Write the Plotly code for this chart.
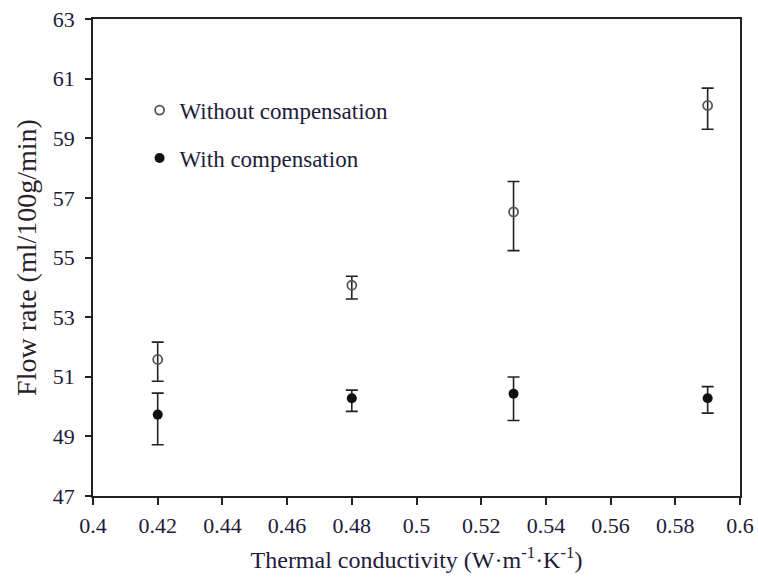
import plotly.graph_objects as go

x_vals = [0.42, 0.48, 0.53, 0.59]
without_comp = [51.58, 54.07, 56.53, 60.10]
without_err_plus = [0.58, 0.30, 1.02, 0.58]
without_err_minus = [0.73, 0.46, 1.30, 0.80]
with_comp = [49.73, 50.28, 50.43, 50.28]
with_err_plus = [0.72, 0.27, 0.56, 0.39]
with_err_minus = [1.01, 0.44, 0.90, 0.50]

x_ticks = [0.4, 0.42, 0.44, 0.46, 0.48, 0.5, 0.52, 0.54, 0.56, 0.58, 0.6]
x_tick_labels = ["0.4", "0.42", "0.44", "0.46", "0.48", "0.5", "0.52", "0.54", "0.56", "0.58", "0.6"]
y_ticks = [47, 49, 51, 53, 55, 57, 59, 61, 63]

font_family = "Liberation Serif, Times New Roman, serif"
text_color = "#1c1c3a"

fig = go.Figure()
fig.add_trace(go.Scatter(
    x=x_vals, y=without_comp, mode="markers", name="Without compensation",
    marker=dict(symbol="circle-open", size=9, color="#555555", line=dict(width=1.8, color="#555555")),
    error_y=dict(type="data", symmetric=False, array=without_err_plus, arrayminus=without_err_minus,
                 color="#222222", thickness=1.6, width=6),
    legendgroup="a",
))
fig.add_trace(go.Scatter(
    x=x_vals, y=with_comp, mode="markers", name="With compensation",
    marker=dict(symbol="circle", size=10, color="#111111"),
    error_y=dict(type="data", symmetric=False, array=with_err_plus, arrayminus=with_err_minus,
                 color="#222222", thickness=1.6, width=6),
    legendgroup="b",
))

fig.update_layout(
    width=758, height=579,
    margin=dict(l=93, r=18, t=19, b=83, autoexpand=False),
    paper_bgcolor="white", plot_bgcolor="white",
    font=dict(family=font_family, size=22, color=text_color),
    showlegend=True,
    legend=dict(
        x=0.072, y=0.854, xanchor="left", yanchor="top",
        bgcolor="rgba(0,0,0,0)", font=dict(size=23, color=text_color),
        traceorder="grouped", tracegroupgap=15, itemwidth=30,
    ),
    xaxis=dict(
        range=[0.4, 0.6], tickvals=x_ticks, ticktext=x_tick_labels,
        showgrid=False, zeroline=False,
        showline=True, linecolor="#222222", linewidth=1.6, mirror=True,
        ticks="outside", ticklen=7, tickwidth=1.6, tickcolor="#222222",
        tickfont=dict(size=22, color=text_color), ticklabelstandoff=2,
        title=dict(text="Thermal conductivity (W·m<sup>-1</sup>·K<sup>-1</sup>)",
                   font=dict(size=24, color=text_color), standoff=14),
    ),
    yaxis=dict(
        range=[47, 63], tickvals=y_ticks,
        showgrid=False, zeroline=False,
        showline=True, linecolor="#222222", linewidth=1.6, mirror=True,
        ticks="outside", ticklen=6, tickwidth=1.6, tickcolor="#222222",
        tickfont=dict(size=22, color=text_color), ticklabelstandoff=6,
        title=dict(text="Flow rate (ml/100g/min)", font=dict(size=28, color="#2a1f2a"), standoff=8),
    ),
)

fig.write_html("out.html")
